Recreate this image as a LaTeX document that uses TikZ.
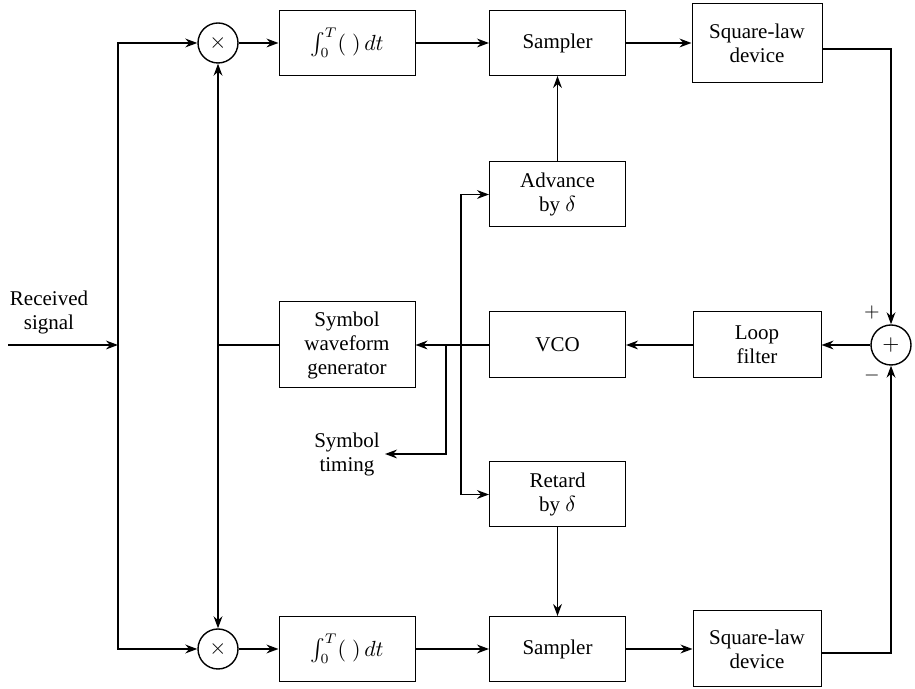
\documentclass[tikz,border=0pt]{standalone}
\usepackage{fontspec}
\setmainfont{Liberation Serif}
\usepackage{amsmath}
\usepackage{tikz}
\usetikzlibrary{arrows.meta}

\begin{document}
\begin{tikzpicture}[x=0.5pt,y=0.5pt,font=\fontsize{10.5}{12}\selectfont,
    >={Stealth[length=6pt,width=4.4pt,inset=2pt]},
    blk/.style={draw,line width=0.5pt,minimum width=68pt,minimum height=32.5pt,
      align=center,inner sep=1pt},
    mixer/.style={draw,circle,line width=0.7pt,minimum size=20pt,inner sep=0pt},
    conn/.style={line width=0.9pt}]
  \useasboundingbox (0,0) rectangle (915,689);

  \node[mixer] (m1) at (218,646) {$\times$};
  \node[blk] (int1) at (347,646) {$\int_0^T(\;)\,dt$};
  \node[blk] (samp1) at (557.5,646) {Sampler};
  \node[blk,minimum width=65pt,minimum height=39.5pt] (sq1) at (757,646) {Square-law\\device};

  \node[blk] (adv) at (557.5,494.5) {Advance\\by $\delta$};

  \node[blk,minimum height=43pt] (gen) at (347,344) {Symbol\\waveform\\generator};
  \node[blk,minimum height=33pt] (vco) at (557.5,344) {VCO};
  \node[blk,minimum width=64pt,minimum height=33pt] (loop) at (757,344) {Loop\\filter};
  \node[mixer] (sum) at (891,344) {$+$};
  \node[font=\fontsize{10}{12}\selectfont] (plus) at (872,376) {$+$};
  \node[font=\fontsize{10}{12}\selectfont] (minus) at (872,313) {$-$};

  \node[blk] (ret) at (557.5,194.5) {Retard\\by $\delta$};

  \node[mixer] (m2) at (218,40) {$\times$};
  \node[blk] (int2) at (347,40) {$\int_0^T(\;)\,dt$};
  \node[blk] (samp2) at (557.5,40) {Sampler};
  \node[blk,minimum width=64pt,minimum height=38pt] (sq2) at (757,40) {Square-law\\device};

  \node[align=center] (rxtxt) at (49,377) {Received\\signal};
  \node[align=center,anchor=east,inner sep=2.5pt] (timtxt) at (385,235) {Symbol\\timing};

  \coordinate (rx) at (8,344);
  \coordinate (busin) at (118,344);
  \coordinate (jg) at (218,344);
  \coordinate (jt) at (446,344);
  \coordinate (ja) at (461,344);

  \draw[conn,->] (rx) -- (busin);
  \draw[conn,->] (busin) |- (m1.west);
  \draw[conn,->] (busin) |- (m2.west);
  \draw[conn,->] (m1) -- (int1);
  \draw[conn,->] (int1) -- (samp1);
  \draw[conn,->] (samp1) -- (sq1.west |- samp1);
  \draw[conn,->] (m2) -- (int2);
  \draw[conn,->] (int2) -- (samp2);
  \draw[conn,->] (samp2) -- (sq2.west |- samp2);
  \draw[conn,->] ([yshift=-3pt]sq1.east) -| (sum.north);
  \draw[conn,->] ([yshift=-2pt]sq2.east) -| (sum.south);

  \draw[conn,->] (sum) -- (loop);
  \draw[conn,->] (loop) -- (vco);
  \draw[conn,->] (vco) -- (gen);
  \draw[conn] (gen.west) -- (jg);
  \draw[conn,->] (jg) -- (m1);
  \draw[conn,->] (jg) -- (m2);

  \draw[conn,->] (ja) |- (adv.west);
  \draw[conn,->] (ja) |- (ret.west);
  \draw[conn,->] (jt) |- (timtxt.east);
  \draw[conn,->] (adv) -- (samp1);
  \draw[conn,->] (ret) -- (samp2);
\end{tikzpicture}
\end{document}
